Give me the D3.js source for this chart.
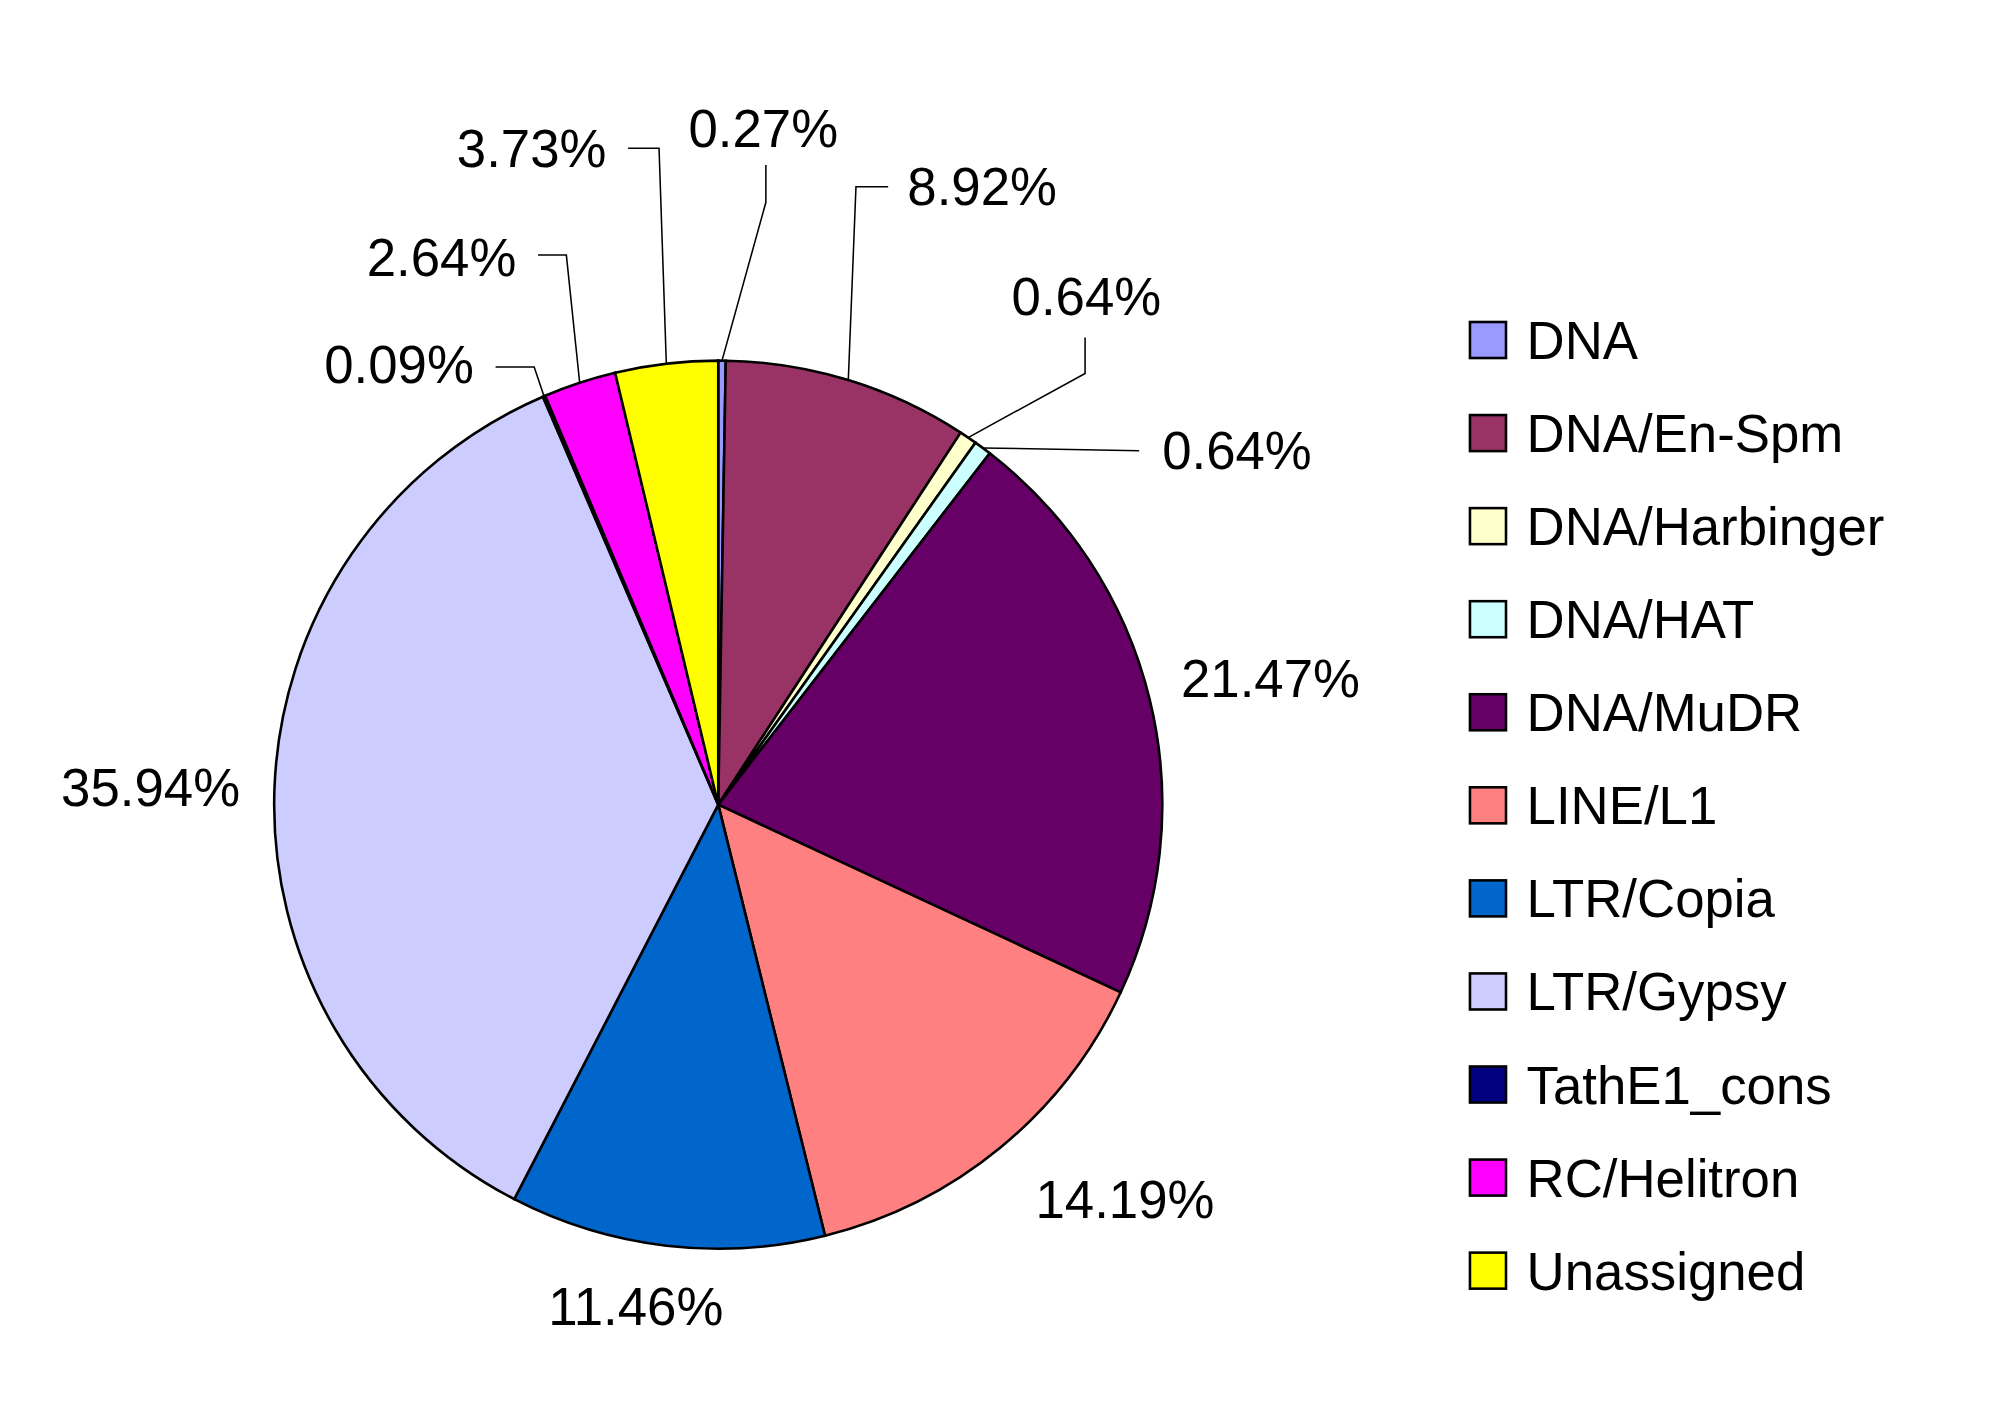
<!DOCTYPE html>
<html><head><meta charset="utf-8">
<script src="https://cdn.jsdelivr.net/npm/d3@7"></script>
<style>body{margin:0;background:#fff}</style></head>
<body>
<script>
const categories = ['DNA','DNA/En-Spm','DNA/Harbinger','DNA/HAT','DNA/MuDR','LINE/L1','LTR/Copia','LTR/Gypsy','TathE1_cons','RC/Helitron','Unassigned']
const values = [0.27, 8.92, 0.64, 0.64, 21.47, 14.19, 11.46, 35.94, 0.09, 2.64, 3.73]
const colors = ['#9999FF','#993366','#FFFFCC','#CCFFFF','#660066','#FF8080','#0066CC','#CCCCFF','#000080','#FF00FF','#FFFF00']
// label text anchor (x, y) and optional leader bend, in 1560x1099 view units
const labelPos = [[593,100,[[595,157],[595,128]]],[763,145,[[665,145],[690,145]]],[844,230,[[843,290],[843,262]]],[961,350,[[885,350]]],
  [987,527,null],[874,932,null],[494,1015,null],[117,612,null],[310,283,[[415,285],[385,285]]],[343,200,[[440,198],[418,198]]],[413,115,[[512,115],[488,115]]]]

const W = 1560, H = 1099, cx = 558, cy = 625, r = 345
const svg = d3.select('body').append('svg').attr('width', 2008).attr('height', 1415)
  .attr('viewBox', `0 0 ${W} ${H}`).style('font-family', 'Liberation Sans, Arial, sans-serif')

const pie = d3.pie().sort(null).value(d => d)
const arc = d3.arc().innerRadius(0).outerRadius(r)
const arcs = pie(values)
const g = svg.append('g').attr('transform', `translate(${cx},${cy})`)
g.selectAll('path').data(arcs).enter().append('path')
  .attr('d', arc).attr('fill', (d, i) => colors[i]).attr('stroke', '#000').attr('stroke-width', 2)

arcs.forEach((a, i) => {
  const [lx, ly, bend] = labelPos[i]
  if (bend) {
    const m = (a.startAngle + a.endAngle) / 2
    const pts = [[cx + r * Math.sin(m), cy - r * Math.cos(m)], ...bend]
    svg.append('polyline').attr('points', pts.map(p => p.join(',')).join(' '))
      .attr('fill', 'none').attr('stroke', '#000').attr('stroke-width', 1.2)
  }
  svg.append('text').attr('x', lx).attr('y', ly).attr('dy', '0.35em').attr('text-anchor', 'middle')
    .attr('font-size', 41).text(values[i].toFixed(2) + '%')
})

const leg = svg.append('g')
categories.forEach((c, i) => {
  const y = 264 + i * 72.3
  leg.append('rect').attr('x', 1142).attr('y', y - 14).attr('width', 28).attr('height', 28)
    .attr('fill', colors[i]).attr('stroke', '#000').attr('stroke-width', 2)
  leg.append('text').attr('x', 1186).attr('y', y).attr('dy', '0.36em').attr('font-size', 41).text(c)
})
</script>
</body></html>
